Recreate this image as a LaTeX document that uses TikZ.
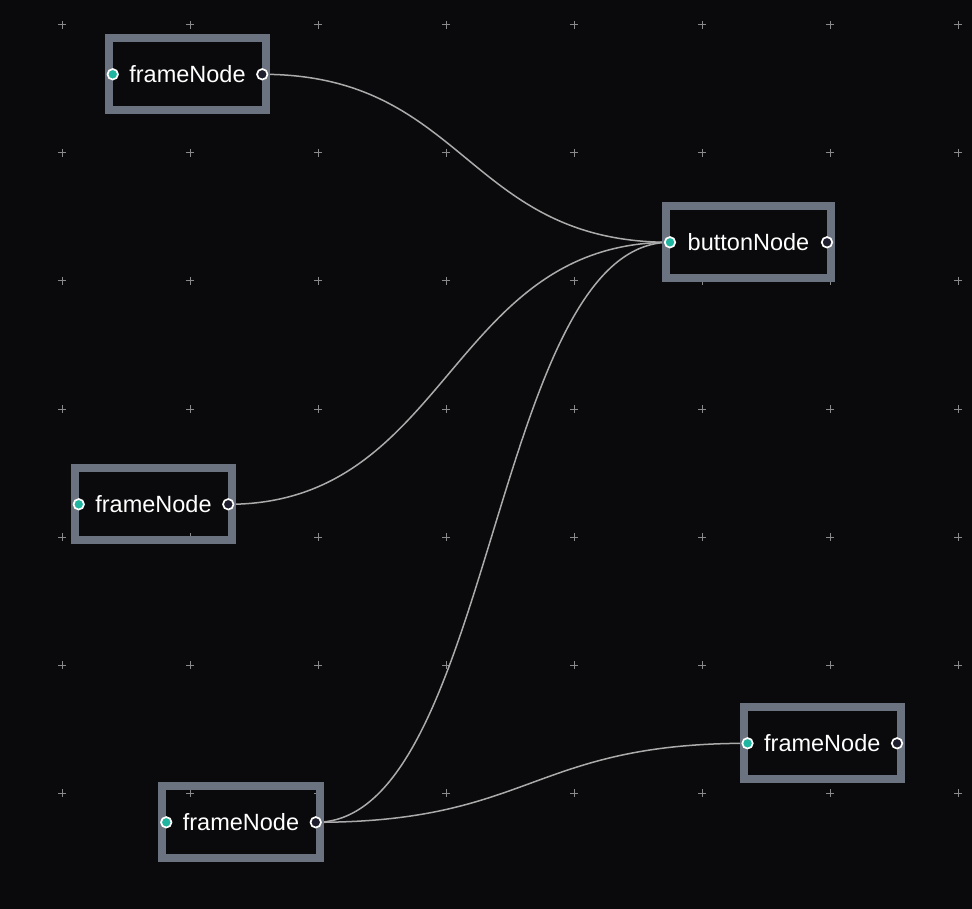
\documentclass[tikz,border=0pt]{standalone}
\usepackage{fontspec}
\setmainfont{Liberation Sans}
\usetikzlibrary{calc}
\definecolor{bgc}{HTML}{0A0A0C}
\definecolor{gridc}{HTML}{8A8A8A}
\definecolor{framec}{HTML}{6B7280}
\definecolor{edgec}{HTML}{ABABAB}
\definecolor{portin}{HTML}{1FB5A0}
\definecolor{portout}{HTML}{1E1E2E}
\pgfdeclarelayer{back}
\pgfdeclarelayer{edges}
\pgfsetlayers{back,edges,main}
\tikzset{
  nodebox/.style={draw=framec, line width=8pt, rectangle, inner sep=0pt, outer sep=0pt,
    minimum width=157.5pt, minimum height=72pt, text=white,
    font=\fontsize{23.5}{28}\selectfont},
  buttonbox/.style={nodebox, minimum width=165pt},
  portbase/.style={circle, draw=white, line width=1.7pt, inner sep=0pt, minimum size=10.5pt},
  inport/.style={portbase, fill=portin},
  outport/.style={portbase, fill=portout},
  edge/.style={draw=edgec, line width=1.5pt},
  gridmark/.style={draw=gridc, line width=1pt}
}
\begin{document}
\begin{tikzpicture}[x=1pt,y=-1pt]
\begin{pgfonlayer}{back}
  \fill[bgc] (0,0) rectangle (972,909);
  \foreach \gx in {62,190,...,958}{
    \foreach \gy in {25,153,...,793}{
      \draw[gridmark] (\gx-4,\gy) -- (\gx+4,\gy) (\gx,\gy-4) -- (\gx,\gy+4);
    }
  }
\end{pgfonlayer}
\useasboundingbox (0,0) rectangle (972,909);

% boxes
\node[nodebox] (f1) at (187.5,74.3) {frameNode};
\node[nodebox] (f2) at (153.5,504.3) {frameNode};
\node[nodebox] (f3) at (241,822.3) {frameNode};
\node[nodebox] (f4) at (822.3,743.3) {frameNode};
\node[buttonbox] (b1) at (748.5,242.3) {buttonNode};

% ports
\foreach \n in {f1,f2,f3,f4,b1}{
  \node[inport] (\n-in) at ($(\n.west)+(4,0)$) {};
  \node[outport] (\n-out) at ($(\n.east)+(-4,0)$) {};
}

% edges
\begin{pgfonlayer}{edges}
  \coordinate (m1) at ($(f1-out)!0.5!(b1-in)$);
  \draw[edge] (f1-out.center) .. controls (m1 |- f1-out) and (m1 |- b1-in) .. (b1-in.center);
  \coordinate (m2) at ($(f2-out)!0.5!(b1-in)$);
  \draw[edge] (f2-out.center) .. controls (m2 |- f2-out) and (m2 |- b1-in) .. (b1-in.center);
  \coordinate (m3) at ($(f3-out)!0.5!(b1-in)$);
  \draw[edge] (f3-out.center) .. controls (m3 |- f3-out) and (m3 |- b1-in) .. (b1-in.center);
  \coordinate (m4) at ($(f3-out)!0.5!(f4-in)$);
  \draw[edge] (f3-out.center) .. controls (m4 |- f3-out) and (m4 |- f4-in) .. (f4-in.center);
\end{pgfonlayer}
\end{tikzpicture}
\end{document}
